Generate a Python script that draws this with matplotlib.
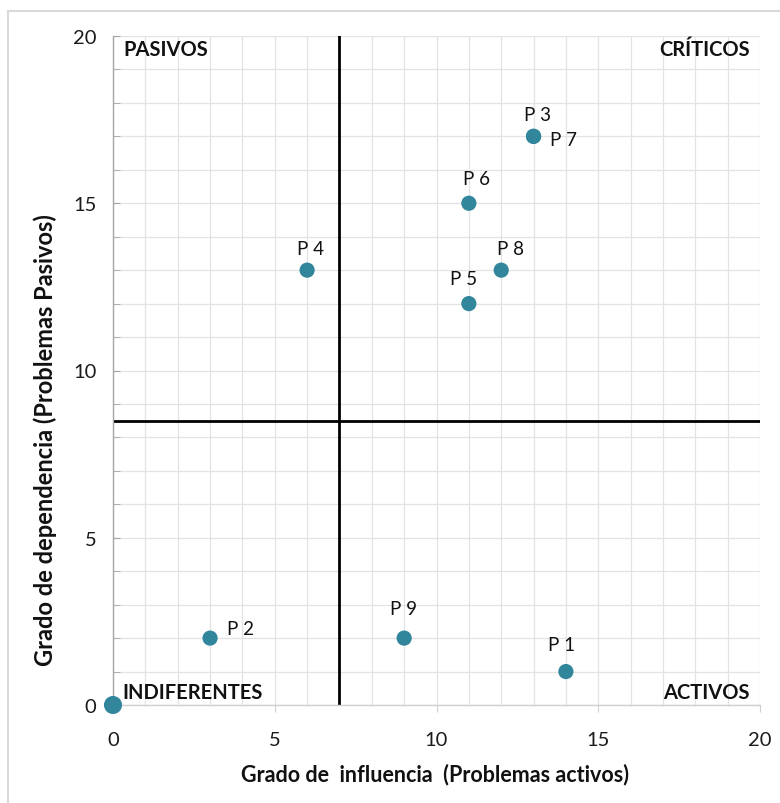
import matplotlib
matplotlib.use("Agg")
import matplotlib.pyplot as plt
from matplotlib.ticker import MultipleLocator
from matplotlib.lines import Line2D

plt.rcParams['font.family'] = ['Lato', 'DejaVu Sans']

labels = ["P 1", "P 2", "P 3", "P 4", "P 5", "P 6", "P 7", "P 8", "P 9"]
influencia = [14, 3, 13, 6, 11, 11, 13, 12, 9]
dependencia = [1, 2, 17, 13, 12, 15, 17, 13, 2]
origin_x = [0]
origin_y = [0]
cut_x = 7
cut_y = 8.5
# label offsets in pixels (dx, dy)
offsets = [(-4, 27), (30, 10), (4, 22), (3, 22), (-5, 25), (8, 25), (30, -3), (9, 22), (-1, 30)]

W, H = 780, 804
fig = plt.figure(figsize=(7.8, 8.04), dpi=100)
# outer light border (left & top visible)
fig.add_artist(Line2D([8/W, 8/W], [0, 1 - 12/H], color="#d9d9d9", lw=1.5, transform=fig.transFigure))
fig.add_artist(Line2D([8/W, 1], [1 - 12/H, 1 - 12/H], color="#d9d9d9", lw=1.5, transform=fig.transFigure))

ax = fig.add_axes([113/W, 1 - 706/H, (760 - 113)/W, (706 - 37)/H])
ax.set_xlim(0, 20)
ax.set_ylim(0, 20)

ax.xaxis.set_major_locator(MultipleLocator(5))
ax.yaxis.set_major_locator(MultipleLocator(5))
ax.xaxis.set_minor_locator(MultipleLocator(1))
ax.yaxis.set_minor_locator(MultipleLocator(1))
ax.grid(True, which="both", color="#e3e3e3", lw=0.9, zorder=0)
ax.set_axisbelow(True)

for s in ["top", "right"]:
    ax.spines[s].set_visible(False)
ax.spines["left"].set_color("#a6a6a6")
ax.spines["bottom"].set_color("#d0d0d0")
ax.spines["left"].set_linewidth(1.0)
ax.spines["bottom"].set_linewidth(1.0)

ax.tick_params(axis="y", which="both", direction="in", length=5, color="#a6a6a6", labelsize=14.5, pad=12)
ax.tick_params(axis="x", which="major", direction="out", length=5, color="#d0d0d0", labelsize=14.5, pad=14)
ax.tick_params(axis="x", which="minor", length=0)
ax.tick_params(axis="both", labelcolor="#1a1a1a")

ax.axvline(cut_x, color="black", lw=2, zorder=2)
ax.axhline(cut_y, color="black", lw=2, xmin=0, xmax=1, zorder=2)

color = "#31869b"
ax.scatter(influencia, dependencia, s=120, color=color, zorder=3, clip_on=False, edgecolors="none")
ax.scatter(origin_x, origin_y, s=170, color=color, zorder=4, clip_on=False, edgecolors="none")

for lab, x, y, (dx, dy) in zip(labels, influencia, dependencia, offsets):
    ax.annotate(lab, (x, y), xytext=(dx, dy), textcoords="offset pixels",
                ha="center", va="center", fontsize=13.5, color="#111111")

qkw = dict(fontsize=14.5, fontweight="bold", color="#111111", transform=ax.transAxes, va="center")
ax.text(10/647, 1 - 13/669, "PASIVOS", ha="left", **qkw)
ax.text(1 - 10/647, 1 - 13/669, "CRÍTICOS", ha="right", **qkw)
ax.text(9/647, 13/669, "INDIFERENTES", ha="left", **qkw)
ax.text(1 - 10/647, 13/669, "ACTIVOS", ha="right", **qkw)

fig.text(435/W, 1 - 775/H, "Grado de  influencia  (Problemas activos)", fontsize=15.5,
         fontweight="bold", color="#111111", ha="center", va="center")
fig.text(45/W, 1 - 440/H, "Grado de dependencia (Problemas Pasivos)", fontsize=17,
         fontweight="bold", color="#111111", ha="center", va="center", rotation=90)

fig.savefig("out.png", dpi=100, facecolor="white")
